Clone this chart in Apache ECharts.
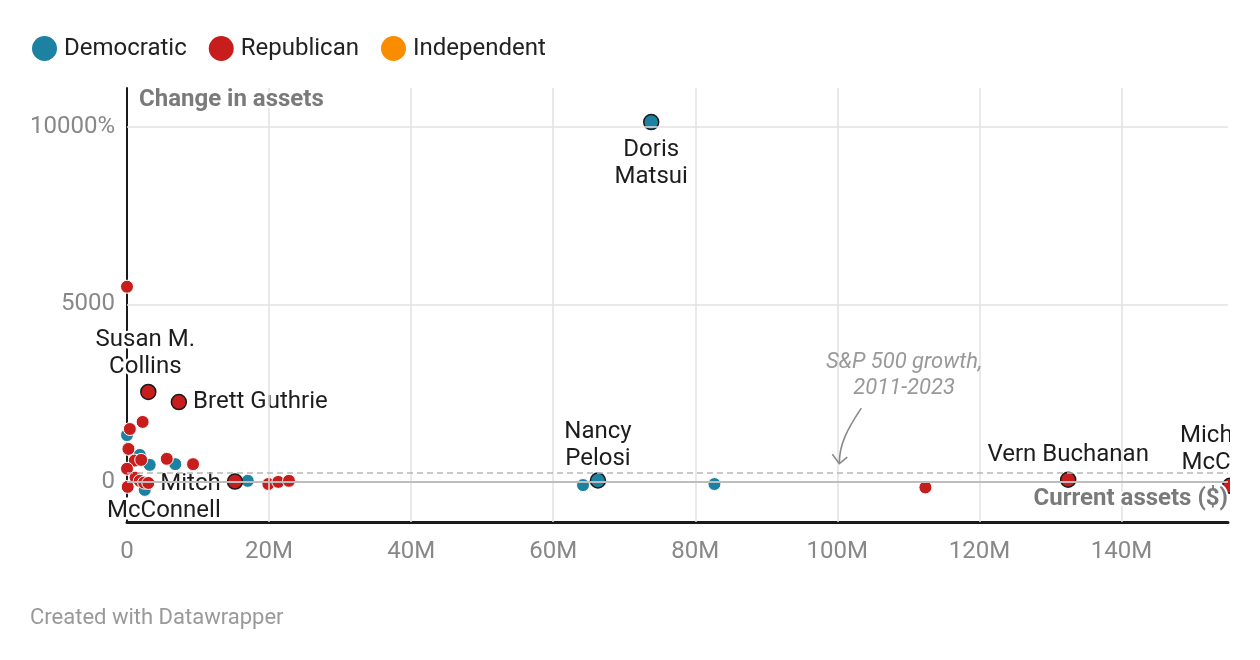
<!DOCTYPE html>
<html><head><meta charset="utf-8">
<script src="https://cdn.jsdelivr.net/npm/echarts@6/dist/echarts.min.js"></script>
<style>html,body{margin:0;padding:0;background:#fff}#c{width:1260px;height:660px}</style>
</head><body><div id="c"></div>
<script>
// ---- data ----
const xTicks = [0, 20e6, 40e6, 60e6, 80e6, 100e6, 120e6, 140e6];
const xTickLabels = ['0', '20M', '40M', '60M', '80M', '100M', '120M', '140M'];
const yTicks = [0, 5000, 10000];
const yTickLabels = ['0', '5000', '10000%'];
const spGrowth = 260; // S&P 500 growth 2011-2023, %

// unlabeled members: [current assets ($), change in assets (%)]
const democratic = [
  [0.0e6, 1320], [1.8e6, 760], [3.2e6, 480], [6.8e6, 500], [2.5e6, -225],
  [17.0e6, 30], [64.2e6, -90], [82.7e6, -60]
];
const republican = [
  [0.0e6, 5500], [2.2e6, 1690], [0.4e6, 1490], [0.2e6, 930], [1.1e6, 600],
  [2.0e6, 620], [5.6e6, 650], [9.3e6, 500], [0.0e6, 370], [1.2e6, 120],
  [1.8e6, 30], [2.4e6, -20], [3.0e6, -30], [0.1e6, -140], [19.9e6, -60],
  [21.3e6, 0], [22.8e6, 30], [112.4e6, -155]
];
const independent = [];

// highlighted members
const hlNames = ['Doris Matsui', 'Nancy Pelosi', 'Susan M. Collins', 'Brett Guthrie', 'Mitch McConnell', 'Vern Buchanan', 'Michael McCaul'];
const hlParty = ['Democratic', 'Democratic', 'Republican', 'Republican', 'Republican', 'Republican', 'Republican'];
const hlX = [73.8e6, 66.3e6, 3.0e6, 7.3e6, 15.2e6, 132.5e6, 155.3e6];
const hlY = [10140, 40, 2535, 2250, 10, 60, -110];

// ---- styles ----
const colors = { Democratic: '#1d81a2', Republican: '#c71e1d', Independent: '#fa8c00' };
const FONT = 'Roboto, "Noto Sans", sans-serif';
const labelPlacement = {
  'Doris Matsui': { text: 'Doris\nMatsui', position: 'bottom', distance: 6 },
  'Nancy Pelosi': { text: 'Nancy\nPelosi', position: 'top', distance: 0 },
  'Susan M. Collins': { text: 'Susan M.\nCollins', position: 'top', distance: 3, offset: [-3, 0] },
  'Brett Guthrie': { text: 'Brett Guthrie', position: 'right', distance: 6 },
  'Mitch McConnell': { text: 'Mitch\nMcConnell', position: 'left', distance: 12, align: 'right', offset: [6, 16] },
  'Vern Buchanan': { text: 'Vern Buchanan', position: 'top', distance: 3 },
  'Michael McCaul': { text: 'Michael\nMcCaul', position: 'top', distance: 1, offset: [-8, 0] }
};

function partyData(party, base) {
  const items = base.map(p => ({ value: p }));
  hlNames.forEach((n, i) => {
    if (hlParty[i] !== party) return;
    const lp = labelPlacement[n];
    items.push({
      name: n,
      value: [hlX[i], hlY[i]],
      symbolSize: 15,
      itemStyle: { borderColor: '#1a1a1a', borderWidth: 1.5 },
      label: {
        show: true, formatter: lp.text, position: lp.position, distance: lp.distance,
        offset: lp.offset || [0, 0], align: lp.align, color: '#1d1d1d', fontSize: 24,
        fontFamily: FONT, lineHeight: 27, textBorderColor: '#fff', textBorderWidth: 5
      }
    });
  });
  return items;
}

function scatterSeries(party, base) {
  return {
    name: party, type: 'scatter', z: 3, clip: false,
    symbolSize: 13,
    itemStyle: { color: colors[party], borderColor: '#fff', borderWidth: 1, opacity: 1 },
    emphasis: { disabled: true },
    data: partyData(party, base)
  };
}

const chart = echarts.init(document.getElementById('c'), null, { renderer: 'canvas' });
const option = {
  animation: false,
  backgroundColor: '#fff',
  textStyle: { fontFamily: FONT },
  legend: {
    data: ['Democratic', 'Republican', 'Independent'],
    left: 25, top: 29, icon: 'circle', itemWidth: 27, itemHeight: 27, itemGap: 20,
    textStyle: { fontSize: 24, color: '#222', fontFamily: FONT, padding: [0, 0, 0, 1] },
    selectedMode: false
  },
  grid: { left: 127, right: 32, top: 88, bottom: 138, containLabel: false },
  xAxis: {
    type: 'value', min: 0, max: 155e6,
    axisLine: { show: true, onZero: false, lineStyle: { color: '#1a1a1a', width: 3 } },
    axisTick: { show: false },
    splitLine: { show: false },
    axisLabel: {
      customValues: xTicks, margin: 18, color: '#888', fontSize: 24, fontFamily: FONT,
      formatter: v => xTickLabels[xTicks.indexOf(v)] ?? ''
    }
  },
  yAxis: {
    type: 'value', min: -1130, max: 11100,
    axisLine: { show: true, onZero: false, lineStyle: { color: '#1a1a1a', width: 2 } },
    axisTick: { show: false },
    splitLine: { show: false },
    axisLabel: {
      customValues: yTicks, margin: 12, color: '#888', fontSize: 24, fontFamily: FONT,
      padding: [4, 0, 0, 0],
      formatter: v => yTickLabels[yTicks.indexOf(v)] ?? ''
    }
  },
  series: [
    {
      name: 'gridlines', type: 'scatter', data: [], z: 1, silent: true,
      markLine: {
        silent: true, symbol: 'none', label: { show: false }, animation: false,
        lineStyle: { color: '#e2e2e2', width: 1.5, type: 'solid' },
        data: xTicks.filter(v => v > 0).map(v => ({ xAxis: v }))
          .concat(yTicks.filter(v => v > 0).map(v => ({ yAxis: v })))
          .concat([
            { yAxis: spGrowth, lineStyle: { color: '#b8b8b8', width: 1.5, type: [6, 4] } },
            { yAxis: 0, lineStyle: { color: '#bdbdbd', width: 2, type: 'solid' } }
          ])
      }
    },
    scatterSeries('Democratic', democratic),
    scatterSeries('Republican', republican),
    scatterSeries('Independent', independent)
  ]
};
chart.setOption(option);

// annotations placed relative to data coordinates
const topLeft = chart.convertToPixel({ gridIndex: 0 }, [0, 11100]);
const botRight = chart.convertToPixel({ gridIndex: 0 }, [155e6, -1130]);
const zeroY = chart.convertToPixel({ gridIndex: 0 }, [0, 0])[1];
const annot = chart.convertToPixel({ gridIndex: 0 }, [109.4e6, 3000]);
const tip = chart.convertToPixel({ gridIndex: 0 }, [100e6, 500]);
chart.setOption({
  graphic: [
    {
      type: 'rect', z: 100, silent: true,
      shape: { x: botRight[0] + 2, y: topLeft[1] - 10, width: 60, height: botRight[1] - topLeft[1] + 8 },
      style: { fill: '#fff' }
    },
    {
      type: 'text', z: 50, silent: true, x: topLeft[0] + 12, y: topLeft[1],
      style: { text: 'Change in assets', fontFamily: FONT, fontSize: 24, fontWeight: 'bold', fill: '#7a7a7a', stroke: '#fff', lineWidth: 4 }
    },
    {
      type: 'text', z: 50, silent: true, x: botRight[0], y: zeroY + 5,
      style: { text: 'Current assets ($)', align: 'right', fontFamily: FONT, fontSize: 24, fontWeight: 'bold', fill: '#7a7a7a', stroke: '#fff', lineWidth: 4 }
    },
    {
      type: 'text', z: 50, silent: true, x: annot[0], y: annot[1],
      style: { text: 'S&P 500 growth,\n2011-2023', align: 'center', verticalAlign: 'middle', fontFamily: FONT, fontSize: 22, fontStyle: 'italic', fill: '#999', lineHeight: 26 }
    },
    {
      type: 'bezierCurve', z: 50, silent: true,
      shape: { x1: tip[0] + 24, y1: tip[1] - 56, cpx1: tip[0] + 10, cpy1: tip[1] - 35, x2: tip[0] + 2, y2: tip[1] - 1, cpx2: tip[0] + 2, cpy2: tip[1] - 20 },
      style: { stroke: '#8a8a8a', lineWidth: 1.6, fill: null }
    },
    {
      type: 'polyline', z: 50, silent: true,
      shape: { points: [[tip[0] - 5, tip[1] - 10], [tip[0] + 2, tip[1] - 0.5], [tip[0] + 10, tip[1] - 7]] },
      style: { stroke: '#8a8a8a', lineWidth: 1.6, fill: null }
    },
    {
      type: 'text', z: 50, silent: true, left: 30, top: 607,
      style: { text: 'Created with Datawrapper', fontFamily: FONT, fontSize: 22, fill: '#999' }
    }
  ]
});
</script>
</body></html>
